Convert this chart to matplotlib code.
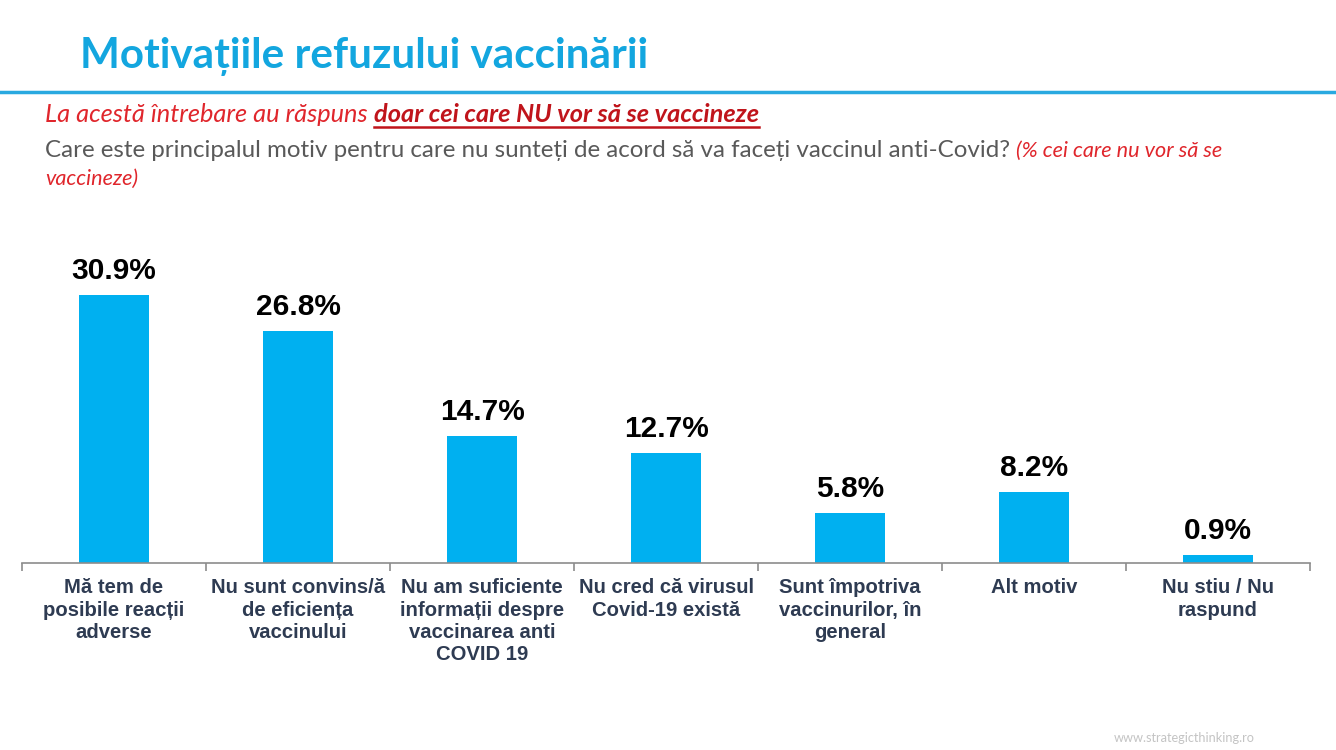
import matplotlib
matplotlib.use("Agg")
import matplotlib.pyplot as plt
from matplotlib.ticker import FixedLocator

categories = [
    "Mă tem de\nposibile reacții\nadverse",
    "Nu sunt convins/ă\nde eficiența\nvaccinului",
    "Nu am suficiente\ninformații despre\nvaccinarea anti\nCOVID 19",
    "Nu cred că virusul\nCovid-19 există",
    "Sunt împotriva\nvaccinurilor, în\ngeneral",
    "Alt motiv",
    "Nu stiu / Nu\nraspund",
]
values = [30.9, 26.8, 14.7, 12.7, 5.8, 8.2, 0.9]
value_labels = ["30.9%", "26.8%", "14.7%", "12.7%", "5.8%", "8.2%", "0.9%"]

title = "Motivațiile refuzului vaccinării"
note_a = "La acestă întrebare au răspuns "
note_b = "doar cei care NU vor să se vaccineze"
question = "Care este principalul motiv pentru care nu sunteți de acord să va faceți vaccinul anti-Covid? "
question_note_1 = "(% cei care nu vor să se"
question_note_2 = "vaccineze)"
watermark = "www.strategicthinking.ro"

W, H = 1336, 750
fig = plt.figure(figsize=(W / 100, H / 100), dpi=100)
fig.patch.set_facecolor("white")

def fx(px):
    return px / W

def fy(py):
    return 1 - py / H

BAR = "#00b0f0"
TEXT_FONT = ["Lato", "DejaVu Sans"]
ARIAL = ["Liberation Sans", "DejaVu Sans"]

# axes
ax = fig.add_axes([fx(22), fy(563), fx(1310 - 22), (563 - 200) / H])
x = list(range(len(values)))
ax.bar(x, values, width=0.38, color=BAR, zorder=2)
ax.set_xlim(-0.5, len(values) - 0.5)
ax.set_ylim(0, 30.9 * 363 / 268)
for s in ["top", "left", "right"]:
    ax.spines[s].set_visible(False)
ax.spines["bottom"].set_color("#8c8c8c")
ax.spines["bottom"].set_linewidth(1.2)
ax.set_yticks([])
ax.set_xticks(x)
ax.set_xticklabels(categories, fontsize=14.6, fontweight="bold", color="#2e3b52",
                   family=ARIAL, linespacing=1.22, va="top")
ax.tick_params(axis="x", which="major", length=0, pad=11)
ax.xaxis.set_minor_locator(FixedLocator([i - 0.5 for i in range(len(values) + 1)]))
ax.tick_params(axis="x", which="minor", length=6, color="#8c8c8c", width=1.2, direction="out")

for xi, v, lab in zip(x, values, value_labels):
    ax.annotate(lab, (xi, v), xytext=(0, 7), textcoords="offset points",
                ha="center", va="bottom", fontsize=21.5, fontweight="bold",
                color="black", family=ARIAL)

# header
fig.text(fx(80), fy(68), title, fontsize=30.4, fontweight="bold", color="#13a6df",
         family=TEXT_FONT, ha="left", va="baseline")
fig.add_artist(plt.Line2D([0, 1], [fy(92), fy(92)], color="#29a9e0", linewidth=2.5,
                          transform=fig.transFigure))

fig.canvas.draw()
renderer = fig.canvas.get_renderer()

def place(xpx, ypx, s, **kw):
    t = fig.text(fx(xpx), fy(ypx), s, ha="left", va="baseline", family=TEXT_FONT, **kw)
    bb = t.get_window_extent(renderer=renderer)
    return t, bb

t1, bb1 = place(45, 122, note_a, fontsize=18.3, style="italic", color="#e0262c")
t2, bb2 = place(bb1.x1, 122, note_b, fontsize=18.3, style="italic", fontweight="bold",
                color="#c0141b")
fig.add_artist(plt.Line2D([fx(bb2.x0), fx(bb2.x1)], [fy(127), fy(127)], color="#c0141b",
                          linewidth=1.8, transform=fig.transFigure))

t3, bb3 = place(45, 157, question, fontsize=17.4, color="#595959")
t4, bb4 = place(bb3.x1, 157, question_note_1, fontsize=15.6, style="italic", color="#e0262c")
place(45, 185, question_note_2, fontsize=15.6, style="italic", color="#e0262c")

fig.text(fx(1255), fy(742), watermark, fontsize=9.2, color="#c4c4c4", family=TEXT_FONT,
         ha="right", va="baseline")

fig.savefig("out.png", dpi=100, facecolor="white")
